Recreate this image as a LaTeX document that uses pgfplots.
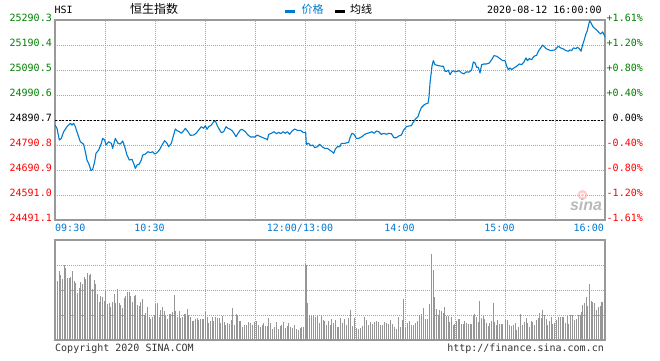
\documentclass[border=0pt]{standalone}
\usepackage{pgfplots}
\pgfplotsset{compat=1.18}
\usepackage{fontspec}
\setmainfont{DejaVu Sans}
\newfontfamily\mono{DejaVu Sans Mono}
\newfontfamily\cjk{Noto Sans CJK SC}
\newfontfamily\logofont{Liberation Sans}
\definecolor{lineblue}{RGB}{0,122,204}
\definecolor{timeblue}{RGB}{0,122,210}
\definecolor{tgreen}{RGB}{0,128,0}
\definecolor{tred}{RGB}{255,0,0}
\definecolor{framegray}{RGB}{153,153,153}
\definecolor{gridgray}{RGB}{165,165,165}
\definecolor{volgray}{RGB}{150,150,150}
\definecolor{txtgray}{RGB}{51,51,51}

\pgfplotstableread{
m p
0 24870.7
1.2 24857.5
2.6 24810.7
3.8 24817.5
5.2 24844
7.2 24864
9.2 24877.5
10.2 24870.7
11.2 24877.5
12.2 24864
13.8 24830.7
15.2 24804
17.2 24793.5
18.2 24764
19.2 24730.7
20.6 24710.7
21.6 24688
22.6 24693.5
23.8 24724
24.6 24757.5
26.2 24770.7
27.8 24797.5
28.6 24817.5
29.8 24810.7
30.6 24790.7
32.2 24804
33.8 24797.5
34.6 24777.5
36.2 24817.5
37.8 24797.5
39.2 24794.7
40.6 24806.7
41.8 24784
43.2 24750.7
44.6 24730.7
46.2 24733.5
47.2 24717.5
48.2 24697.5
49.2 24710.7
50.6 24714.7
51.8 24730.7
52.6 24750.7
54.2 24754.7
55.8 24764
57.2 24760
58.6 24764
59.8 24754.7
61.2 24760
62.6 24770.7
64.2 24790.7
65.8 24808
67.2 24797.5
68.2 24784
69.8 24797.5
70.6 24817.5
72.2 24854.7
73.2 24848
74.6 24844
75.8 24837.5
77.2 24848
78.2 24857.5
79.8 24844
81.2 24829.5
83.2 24830.7
84.6 24837.5
86.2 24850.7
87.8 24864
89.2 24857.5
90.2 24868
91.2 24853.5
92.2 24864
93.8 24870.7
95.2 24884
96.2 24886.7
97.2 24870.7
98.2 24857.5
99.8 24840
101.2 24844
102.6 24864
103.8 24857.5
105.2 24853.5
106.2 24848
107.2 24840
108.6 24824
109.8 24837.5
111.2 24850.7
112.2 24853.5
112.8 24850.7
114.2 24844
115.8 24830.7
117.4 24822.7
119.8 24822.7
121.4 24830.7
122.8 24825.5
124.8 24820
126.8 24814.7
127.4 24810.7
128.2 24833.5
129.8 24837.5
131.4 24844
132.8 24836
134.2 24841.5
135.4 24836
136.8 24844
138.2 24837.5
139.4 24844
140.8 24833.5
142.2 24846.7
143.8 24854.7
145.4 24849.5
147.4 24849.5
148.8 24841.5
150.4 24841.5
150.8 24793.5
152.2 24797.5
153.4 24788
154.8 24790.7
155.8 24780
157.4 24784
158.8 24793.5
160.2 24784
161.8 24777.5
163.4 24777.5
164.8 24770.7
166.2 24764
167.2 24757.5
168.2 24774.7
169.4 24784
170.8 24784
171.8 24797.5
173.8 24797.5
176.2 24801.5
177 24820
178.2 24837.5
179.4 24833.5
180.8 24817.5
182.2 24817.5
184.2 24824
185.8 24833.5
187.4 24837.5
188.8 24840
190.2 24844
191.4 24837.5
192.8 24846.7
194.2 24844
195.8 24833.5
197.4 24837.5
198.8 24833.5
200.2 24837.5
201.8 24836
203.4 24820
204.8 24820
206.2 24826.7
207.8 24830.7
209.2 24850.7
210.8 24864
212.2 24866.7
213.8 24868
214.8 24880
216.2 24894.7
217.8 24904
218.8 24924
219.8 24940
221.4 24950.7
222.8 24956
223.8 24957.5
224.4 24982.7
225 25038.7
225.6 25071.9
226.2 25106.7
227 25127.9
228 25111.9
230 25108
232 25105.5
233 25105.5
234 25085.5
235 25085.5
236 25089.5
237 25071.9
238 25082.7
239 25088
240 25082.7
241.4 25085.5
242.6 25088
244 25078.7
245.4 25074.7
246.6 25082.7
248.6 25082.7
250 25091.9
251 25122.7
252 25118.7
253 25101.5
254 25101.5
255 25078.7
256 25111.9
257.4 25114.7
259 25114.7
260.6 25118.7
262 25131.9
263.4 25147.9
265 25145.5
267 25135.9
268.6 25127.9
270 25127.9
271 25105.5
272 25091.9
273 25098.7
274 25091.9
275.4 25098.7
277 25105.5
278.6 25114.7
280 25111.9
281.4 25122.7
282.6 25138.7
283.4 25127.9
284.6 25135.9
286 25131.9
287.4 25145.5
289 25149.5
290 25165.5
291.4 25178.7
292.6 25189.5
293.4 25185.5
294.6 25175.9
296 25171.9
297.4 25167.9
298.6 25169.5
300 25170.7
301 25178.7
302 25185.5
303.4 25178.7
305 25174.7
306.6 25167.9
308 25165.5
309 25170.7
310 25167.9
311 25178.7
312.6 25175.9
313.4 25181.5
314.6 25175.9
315.6 25165.5
316.6 25191.9
317.6 25211.9
318.4 25231.9
319.4 25247.9
320.2 25271.9
320.8 25287.9
321.6 25278.7
322.6 25265.5
324 25255.9
325.4 25247.9
326.6 25238.7
327.4 25234.7
328.6 25242.7
329.4 25231.9
330 25222.7
}\pricetable

\pgfplotstableread{
m v
1.4 58.7
2.6 69.3
3.2 65.3
4.4 61.3
5.6 75.3
6.2 72
7.4 62
8.6 62
9.2 63.3
10.4 69.3
11.6 59.3
12.2 57.3
13.4 47.3
14.6 52
15.2 58
16.4 56
17.6 63.3
18.2 61.3
19.4 67.3
20.6 65.3
21.2 66
22.4 51.3
23.6 60
24.2 56
25.4 46
26.6 38
27.2 44
28.4 43.3
29.6 39.3
30.2 49.3
31.4 36
32.6 37.3
33.2 33.3
34.4 38
35.6 46
36.2 37.3
37.4 50.7
38.6 37.3
39.2 34.7
40.4 32
41.6 42
42.2 44
43.4 48
44.6 48
45.2 44
46.4 38
47.6 44
48.2 45.3
49.4 34.7
50.6 34
51.2 38
52.4 41.3
53.6 24.7
54.2 26.7
55.4 32.7
56.6 22.7
57.2 20.7
58.4 23.3
59.6 25.3
60.2 36
61.4 37.3
62.6 23.3
63.2 30
64.4 32.7
65.6 29.3
66.2 24
67.4 20.7
68.6 26
69.2 26
70.4 28
71.6 44.7
72.2 29.3
73.4 22.7
74.6 29.3
75.2 22
76.4 23.3
77.6 26
78.2 26
79.4 30.7
80 25.3
81.2 23.3
82.4 19.3
83 19.3
84.2 20.7
85.4 22
86 20
87.2 21.3
88.4 21.3
89 21.3
90.2 28
91.4 22.7
92 16.7
93.2 19.3
94.4 22.7
95 18.7
96.2 23.3
97.4 22
98.6 22
99.2 16.7
100.4 24
101.6 18
102.2 15.3
103.4 16.7
104.6 16
105.8 20
106.4 32
107.6 14.7
108.8 26
109.4 24
110.6 18.7
111.2 19.3
112.4 13.3
113.4 15.3
114.6 15.3
115.8 18
117 16.7
118.2 15.3
119.4 18
120.6 19.3
121.8 15.3
123 13.3
124.2 14.7
125 17.3
126.2 14
127.4 14
128.2 22
129.4 17.3
130.4 11.3
131.4 13.3
132.6 18
133.8 11.3
135 14
136 15.3
137 18
138.2 12
139.4 14
140.2 16.7
141.4 13.3
142.6 12
143.4 14.7
144.6 11.3
145.8 10
147 12
147.8 12.7
149 13.3
150.4 76
150.8 75.3
151.6 37
152.8 25.3
153.8 23.7
155 25.3
156.2 22.7
157.4 25.3
158.4 17
159.6 25.3
161 20
161.8 19.3
163 15.3
164.2 19.3
165.2 15.3
166 21.3
167.2 16.7
168.2 20
169.4 12.7
170.2 13.3
171.4 22
172.6 17.3
173.8 21.3
174.8 15.3
176 22
177.4 30
178.6 14
179.8 22
181 12
182.2 11.3
183.4 12
184.6 14
185.8 23.3
187 20
188.2 15.3
189.4 18
190.6 16
191.8 18
193 18.7
194.2 18
195.4 14.7
196.6 15.3
197.8 18
199 16.7
200.2 16
201.4 20
202.6 16
203.8 13.3
205 11.3
206.2 22.7
207.4 13.3
208.6 20
209 41.3
210.2 13.3
211.4 16.7
212.6 18.7
213.8 14.7
215 14.7
216.2 16.7
217.4 18.7
218.6 25.3
219.6 26
220.8 32
222 21.3
223.2 21.3
224.4 36
225.8 86.3
227 70.3
227.6 43
228.8 31.3
230 24.7
230.6 30
231.8 29.3
233 26.7
233.6 32.7
234.8 24
236 24
236.6 18
237.8 22.7
239 15.3
239.6 16
240.8 18.7
242 21.3
242.6 20.7
243.8 16
245 16
245.6 18.7
246.8 16.7
248 16
249.2 16
249.8 16
251 25.3
251.6 26
252.8 22.7
254 18
254.6 39.3
255.8 22
257 24
257.6 20.7
258.8 16.7
260 14
260.6 17.3
261.8 19.3
263 37.3
263.6 18
264.8 14.7
265.4 20
266.6 16
267.8 16
268.4 16
270.2 20
271.4 20
272.6 15.3
273.8 14
275 14.7
276.2 16.7
277 10
278.2 13.3
279.4 26
280.2 15.3
281.4 18
282.6 22
283.4 17.3
284.6 12.7
285.8 19.3
286.6 18
287.8 14.7
289 20
289.8 22
290.6 26.7
291.8 22
292.2 30
293.4 25.3
294.6 21.3
295.4 14.7
296.6 18.7
297.8 22.7
298.6 16
299.8 16.7
301 20
301.8 22.7
303 22.7
304.2 22.7
305 23.3
306.2 17.3
307.4 24
308.2 16
309.4 24.7
310.6 24.7
311.8 20
313 21.3
313.8 24.7
315 25.3
315.8 28
316.6 34.7
317.8 37.3
318.6 42.7
319.4 34
320.6 56
321.8 39.3
322.6 38
323.8 36.7
324.6 30
325.8 33.3
327 34
327.8 38
328.6 38
329.8 48
}\voltable

\begin{document}
\begin{tikzpicture}[x=1pt,y=1pt]
\pgfplotsset{
  sinabase/.style={
    scale only axis, width=550pt,
    xmin=0, xmax=330,
    xtick={0,30,...,330}, xticklabels={}, yticklabels={},
    scaled x ticks=false, scaled y ticks=false,
    tick style={draw=none},
    grid=major,
    major grid style={draw=gridgray, line width=0.8pt, dash pattern=on 1pt off 1pt},
    axis line style={draw=framegray, line width=1.3pt},
  }
}
% price panel
\begin{axis}[sinabase, at={(55pt,140pt)}, anchor=south west, height=200pt,
  ymin=24491.1, ymax=25290.3,
  ytick={24491.1,24591.0,24690.9,24790.8,24890.7,24990.6,25090.5,25190.4,25290.3}]
\addplot[black, line width=1pt, dash pattern=on 2pt off 1.5pt] coordinates {(0,24890.7) (330,24890.7)};
\addplot[lineblue, line width=1.1pt, line join=round] table[x=m, y=p] {\pricetable};
\end{axis}
% volume panel
\begin{axis}[sinabase, at={(55pt,20pt)}, anchor=south west, height=100pt,
  ymin=0, ymax=100, ytick={25,50,75}]
\addplot[ycomb, draw=volgray, line width=1pt] table[x=m, y=v] {\voltable};
\end{axis}

% left price labels
\foreach \yy/\lab/\col in {340/25290.3/tgreen, 315/25190.4/tgreen, 290/25090.5/tgreen, 265/24990.6/tgreen, 240/24890.7/black, 215/24790.8/tred, 190/24690.9/tred, 165/24591.0/tred, 140/24491.1/tred}
  \node[anchor=base east, inner sep=0pt, text=\col, font=\mono\fontsize{10}{12}\selectfont] at (52,\yy-1) {\lab};
% right percent labels
\foreach \yy/\lab/\col in {340/+1.61/tgreen, 315/+1.20/tgreen, 290/+0.80/tgreen, 265/+0.40/tgreen, 215/-0.40/tred, 190/-0.80/tred, 165/-1.20/tred, 140/-1.61/tred}
  \node[anchor=base west, inner sep=0pt, text=\col, font=\mono\fontsize{10}{12}\selectfont] at (606.5,\yy-1) {\lab\%};
\node[anchor=base west, inner sep=0pt, text=black, font=\mono\fontsize{10}{12}\selectfont] at (606.5,239) {\phantom{+}0.00\%};

% time labels
\begin{scope}[every node/.style={inner sep=0pt, text=timeblue, font=\mono\fontsize{10}{12}\selectfont}]
\node[anchor=base west] at (55,129) {09:30};
\node[anchor=base] at (149.5,129) {10:30};
\node[anchor=base] at (300,129) {12:00/13:00};
\node[anchor=base] at (399.5,129) {14:00};
\node[anchor=base] at (499.5,129) {15:00};
\node[anchor=base east] at (604,129) {16:00};
\end{scope}

% header
\node[anchor=base west, inner sep=0pt, font=\mono\fontsize{10}{12}\selectfont] at (54.5,347) {HSI};
\node[anchor=base west, inner sep=0pt, font=\cjk\fontsize{12}{14}\selectfont] at (130,346.5) {恒生指数};
\draw[lineblue, line width=3.3pt] (285,348.3) -- (295,348.3);
\node[anchor=base west, inner sep=0pt, text=lineblue, font=\cjk\fontsize{11}{13}\selectfont] at (301.5,346.5) {价格};
\draw[black, line width=3.3pt] (335,348.3) -- (345,348.3);
\node[anchor=base west, inner sep=0pt, font=\cjk\fontsize{11}{13}\selectfont] at (350,346.5) {均线};
\node[anchor=base west, inner sep=0pt, font=\mono\fontsize{10}{12}\selectfont] at (487,347) {2020-08-12 16:00:00};

% footer
\node[anchor=base west, inner sep=0pt, text=txtgray, font=\mono\fontsize{10}{12}\selectfont] at (55,8.5) {Copyright 2020 SINA.COM};
\node[anchor=base east, inner sep=0pt, text=txtgray, font=\mono\fontsize{10}{12}\selectfont] at (604,8.5) {http://finance.sina.com.cn};

% sina watermark
\fill[red!35, opacity=0.6] (582.5,165) circle (5pt);
\fill[white] (582.5,165) circle (2.5pt);
\fill[red!40, opacity=0.8] (582.5,165) circle (1.3pt);
\node[anchor=base, inner sep=0pt, text=gray!55, font=\logofont\bfseries\itshape\fontsize{16}{18}\selectfont] at (586,150) {sina};

\pgfresetboundingbox
\path (0,0) rectangle (660,360);
\end{tikzpicture}
\end{document}
